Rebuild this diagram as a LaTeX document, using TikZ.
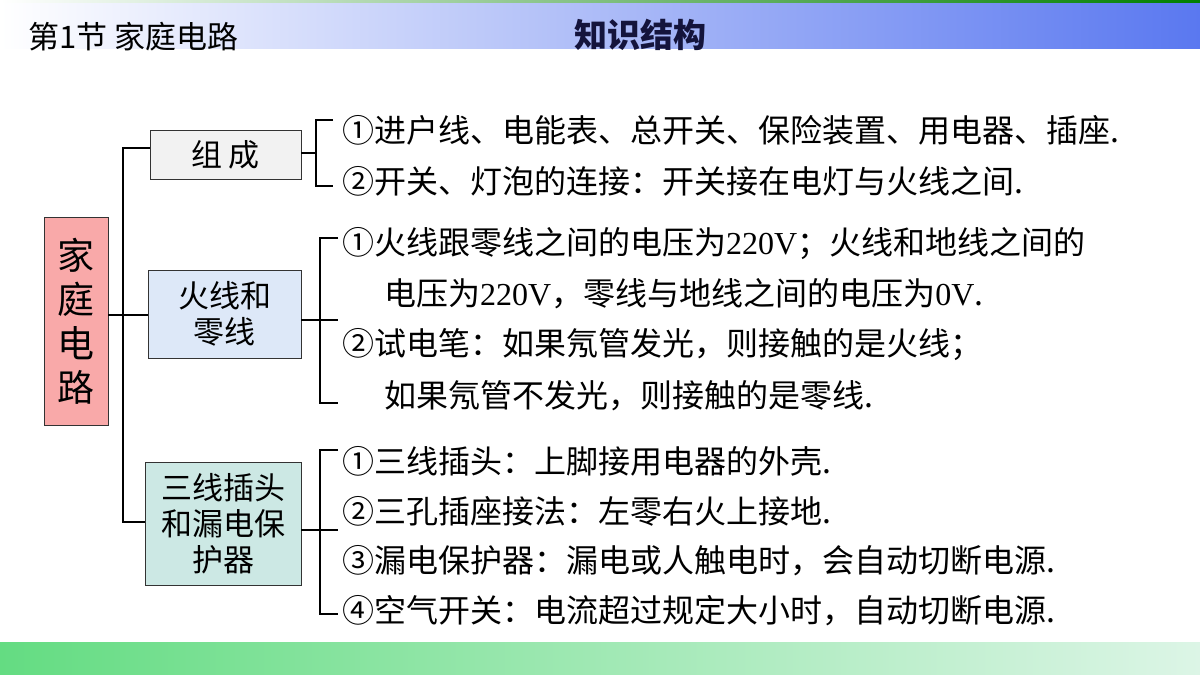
\documentclass[tikz,border=0pt]{standalone}
\usepackage{fontspec}
\setmainfont{Noto Sans CJK SC}
\newfontfamily\latinserif{Liberation Serif}
\begin{document}
\begin{tikzpicture}[x=1pt,y=-1pt,
  box/.style={draw=black!80,line width=0.8pt,minimum width=0pt,inner sep=0pt,align=center,font=\fontsize{31}{36}\selectfont},
  ln/.style={line width=1.1pt,black},
  txt/.style={anchor=west,inner sep=0pt,font=\fontsize{32}{34}\selectfont}]
\useasboundingbox (0,0) rectangle (1200,675);
\fill[white] (0,0) rectangle (1200,675);
\shade[left color=white,right color={rgb,255:red,90;green,120;blue,240}] (0,2) rectangle (1200,48);
\shade[left color=white,right color=green!50!black] (0,0) rectangle (1200,2);
\shade[left color={rgb,255:red,100;green,220;blue,130},right color={rgb,255:red,220;green,245;blue,230}] (0,642) rectangle (1200,675);
\node[anchor=west,inner sep=0pt,font=\fontsize{31}{34}\selectfont] (t1) at (28,37) {第1节 家庭电路};
\node[inner sep=0pt,font=\fontsize{33}{36}\selectfont\bfseries,text={rgb,255:red,20;green,20;blue,60}] (t2) at (640,35) {知识结构};
\node[box,fill={rgb,255:red,249;green,169;blue,169},minimum width=64pt,minimum height=208pt,font=\fontsize{37}{44}\selectfont] (root) at (76,321) {家\\庭\\电\\路};
\node[box,fill={rgb,255:red,242;green,242;blue,242},minimum width=151pt,minimum height=49pt] (a) at (225.5,154.5) {组\,成};
\node[box,fill={rgb,255:red,221;green,232;blue,248},minimum width=153pt,minimum height=88pt] (b) at (224.5,314) {火线和\\零线};
\node[box,fill={rgb,255:red,204;green,232;blue,228},minimum width=156pt,minimum height=123pt] (c) at (223,523.5) {三线插头\\和漏电保\\护器};
\coordinate (tr) at (123,315);
\draw[ln] (root.east |- tr) -- (b.west |- tr);
\draw[ln] (a.west |- 0,148) -- (123,148) -- (123,522) -- (c.west |- 0,522);
\draw[ln] (a.east |- 0,153) -- (316,153);
\draw[ln] (333,120) -- (316,120) -- (316,186) -- (333,186);
\draw[ln] (b.east |- 0,320) -- (338,320);
\draw[ln] (338,238) -- (320,238) -- (320,403) -- (338,403);
\draw[ln] (c.east |- 0,530) -- (338,530);
\draw[ln] (338,450) -- (320,450) -- (320,614) -- (338,614);
\node[txt] (l1) at (342,130) {①进户线、电能表、总开关、保险装置、用电器、插座.};
\node[txt] (l2) at (342,181) {②开关、灯泡的连接：开关接在电灯与火线之间.};
\node[txt] (l3) at (342,244) {①火线跟零线之间的电压为{\latinserif 220V}；火线和地线之间的};
\node[txt] (l4) at (384,294) {电压为{\latinserif 220V}，零线与地线之间的电压为{\latinserif 0V}.};
\node[txt] (l5) at (342,345) {②试电笔：如果氖管发光，则接触的是火线；};
\node[txt] (l6) at (384,396) {如果氖管不发光，则接触的是零线.};
\node[txt] (l7) at (342,461) {①三线插头：上脚接用电器的外壳.};
\node[txt] (l8) at (342,511) {②三孔插座接法：左零右火上接地.};
\node[txt] (l9) at (342,561) {③漏电保护器：漏电或人触电时，会自动切断电源.};
\node[txt] (l10) at (342,611) {④空气开关：电流超过规定大小时，自动切断电源.};
\end{tikzpicture}
\end{document}
